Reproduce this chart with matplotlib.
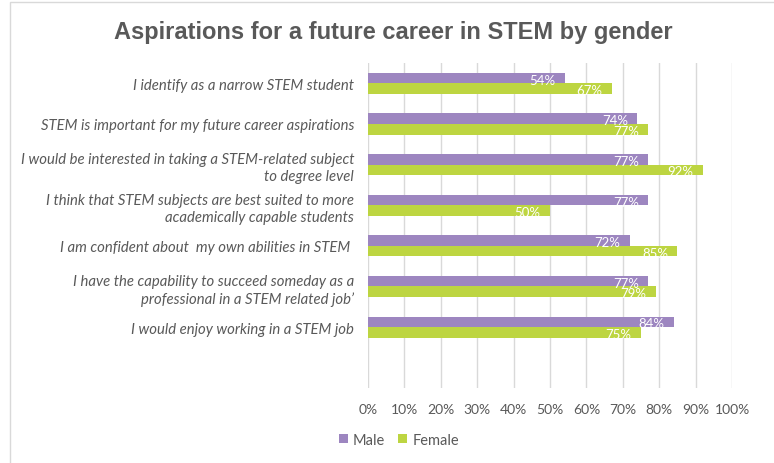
import matplotlib
matplotlib.use("Agg")
import matplotlib.pyplot as plt
import numpy as np
from matplotlib.patches import Rectangle

categories = [
    "I identify as a narrow STEM student",
    "STEM is important for my future career aspirations",
    "I would be interested in taking a STEM-related subject\nto degree level",
    "I think that STEM subjects are best suited to more\nacademically capable students",
    "I am confident about  my own abilities in STEM ",
    "I have the capability to succeed someday as a\nprofessional in a STEM related job\u2019",
    "I would enjoy working in a STEM job",
]
male = [54, 74, 77, 77, 72, 77, 84]
female = [67, 77, 92, 50, 85, 79, 75]
xticks = [0, 10, 20, 30, 40, 50, 60, 70, 80, 90, 100]
xtick_labels = [f"{t}%" for t in xticks]

male_color = "#9d86c0"
female_color = "#bdd541"
text_color = "#595959"
label_font = "Lato"

fig = plt.figure(figsize=(7.74, 4.64), dpi=100)
fig.patches.append(Rectangle((9.5 / 774, -0.1), 2.0, 1 - 3 / 464 + 0.1,
                             transform=fig.transFigure, fill=False,
                             edgecolor="#d9d9d9", linewidth=1.0))

ax = fig.add_axes([368 / 774, 1 - 389 / 464, (732 - 368) / 774, (389 - 64) / 464])

n = len(categories)
y = np.arange(n)
h = 0.26
ax.barh(y - h / 2, male, height=h, color=male_color, label="Male", zorder=3)
ax.barh(y + h / 2, female, height=h, color=female_color, label="Female", zorder=3)

for yi, m, f in zip(y, male, female):
    ax.text(m - 2.6, yi - h / 2 + 0.04, f"{m}%", ha="right", va="center",
            color="white", fontsize=9.5, family=label_font, zorder=4)
    ax.text(f - 2.6, yi + h / 2 + 0.04, f"{f}%", ha="right", va="center",
            color="white", fontsize=9.5, family=label_font, zorder=4)

ax.set_ylim(n - 0.5 + 1, -0.5)
ax.set_xlim(0, 100)
ax.set_xticks(xticks)
ax.set_xticklabels(xtick_labels, fontsize=10, color=text_color, family=label_font)
ax.set_yticks(y)
ax.set_yticklabels(categories, fontsize=10.7, color=text_color, family=label_font,
                   style="italic", ha="right", linespacing=1.3)
ax.tick_params(axis="both", length=0)
ax.tick_params(axis="x", pad=11)
ax.tick_params(axis="y", pad=10)
ax.grid(axis="x", color="#d9d9d9", linewidth=1, zorder=0)
for s in ax.spines.values():
    s.set_visible(False)

fig.text(393 / 774, 1 - 33 / 464, "Aspirations for a future career in STEM by gender",
         ha="center", va="center", fontsize=17, fontweight="bold",
         color=text_color, family="Liberation Sans")

leg = fig.legend(loc="center left", bbox_to_anchor=(326 / 774, 1 - 441 / 464),
                 ncol=2, frameon=False, fontsize=10.5,
                 handlelength=0.6, handleheight=0.6, handletextpad=0.35,
                 columnspacing=0.9)
for t in leg.get_texts():
    t.set_color(text_color)
    t.set_family(label_font)

fig.savefig("out.png", dpi=100)
